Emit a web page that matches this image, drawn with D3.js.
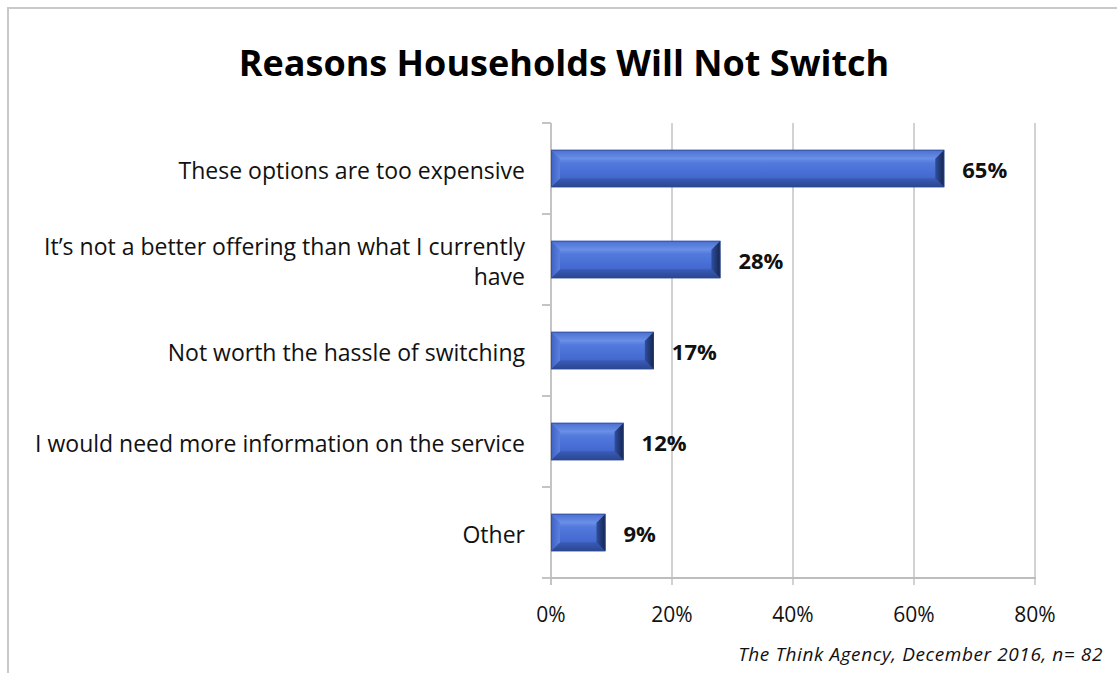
<!DOCTYPE html>
<html>
<head>
<meta charset="utf-8">
<script src="https://cdn.jsdelivr.net/npm/d3@7/dist/d3.min.js"></script>
<style>
  html, body { margin: 0; padding: 0; background: #fff; }
  svg { display: block; }
  text { font-family: "Open Sans", Lato, sans-serif; }
</style>
</head>
<body>
<svg id="chart" width="1117" height="673"></svg>
<script>
// Survey answers and their shares (percent of households)
const categories = [
  "These options are too expensive",
  "It’s not a better offering than what I currently have",
  "Not worth the hassle of switching",
  "I would need more information on the service",
  "Other"
];
const values = [65, 28, 17, 12, 9];
const tickValues = [0, 20, 40, 60, 80];
const titleText = "Reasons Households Will Not Switch";
const sourceText = "The Think Agency, December 2016, n= 82";

const svg = d3.select("#chart");

// frame
svg.append("path")
  .attr("d", "M8,673 L8,8 L1117,8")
  .attr("fill", "none")
  .attr("stroke", "#c9c9c9")
  .attr("stroke-width", 2);

const plot = { left: 551, right: 1035, top: 123, bottom: 578 };

const x = d3.scaleLinear().domain([0, 80]).range([plot.left, plot.right]);
const y = d3.scaleBand().domain(categories)
  .range([plot.top, plot.bottom])
  .paddingInner(0.59).paddingOuter(0.295);

// gradients for the bevelled bars
const defs = svg.append("defs");
const gMain = defs.append("linearGradient").attr("id", "barMain")
  .attr("x1", 0).attr("y1", 0).attr("x2", 0).attr("y2", 1);
[[0, "#5a7fe0"], [0.2, "#7096ea"], [0.35, "#5279dc"], [0.7, "#456bd2"], [1, "#3858b0"]]
  .forEach(([o, c]) => gMain.append("stop").attr("offset", o).attr("stop-color", c));
const gTop = defs.append("linearGradient").attr("id", "barTop")
  .attr("x1", 0).attr("y1", 0).attr("x2", 0).attr("y2", 1);
[[0, "#4a6fd0"], [1, "#6b90e8"]]
  .forEach(([o, c]) => gTop.append("stop").attr("offset", o).attr("stop-color", c));
const gBot = defs.append("linearGradient").attr("id", "barBot")
  .attr("x1", 0).attr("y1", 0).attr("x2", 0).attr("y2", 1);
[[0, "#3a5cb8"], [1, "#2a4690"]]
  .forEach(([o, c]) => gBot.append("stop").attr("offset", o).attr("stop-color", c));
const gLeft = defs.append("linearGradient").attr("id", "barLeft")
  .attr("x1", 0).attr("y1", 0).attr("x2", 1).attr("y2", 0);
[[0, "#3f62c4"], [1, "#5a80df"]]
  .forEach(([o, c]) => gLeft.append("stop").attr("offset", o).attr("stop-color", c));
const gRight = defs.append("linearGradient").attr("id", "barRight")
  .attr("x1", 0).attr("y1", 0).attr("x2", 1).attr("y2", 0);
[[0, "#2f4f9e"], [1, "#14244f"]]
  .forEach(([o, c]) => gRight.append("stop").attr("offset", o).attr("stop-color", c));

// vertical gridlines (extend below the axis as tick marks)
svg.append("g").selectAll("line")
  .data(tickValues.slice(1))
  .join("line")
  .attr("x1", d => x(d)).attr("x2", d => x(d))
  .attr("y1", plot.top).attr("y2", plot.bottom + 7)
  .attr("stroke", "#d2d2d2").attr("stroke-width", 2);

// y axis line with outward ticks at band boundaries
const bounds = categories.map(c => y(c) - y.step() * y.paddingInner() / 2);
bounds.push(plot.bottom);
svg.append("line")
  .attr("x1", plot.left).attr("x2", plot.left)
  .attr("y1", plot.top).attr("y2", plot.bottom + 7)
  .attr("stroke", "#c4c4c4").attr("stroke-width", 2);
svg.append("g").selectAll("line")
  .data(bounds)
  .join("line")
  .attr("x1", plot.left - 9).attr("x2", plot.left)
  .attr("y1", d => d).attr("y2", d => d)
  .attr("stroke", "#c4c4c4").attr("stroke-width", 2);

// x axis line
svg.append("line")
  .attr("x1", plot.left - 1).attr("x2", plot.right + 1)
  .attr("y1", plot.bottom).attr("y2", plot.bottom)
  .attr("stroke", "#bdbdbd").attr("stroke-width", 2);

// x tick labels
svg.append("g").selectAll("text")
  .data(tickValues)
  .join("text")
  .attr("x", d => x(d)).attr("y", 622)
  .attr("text-anchor", "middle")
  .attr("font-size", 21).attr("fill", "#111")
  .text(d => d + "%");

// bevelled bars
const bars = svg.append("g").selectAll("g")
  .data(categories.map((c, i) => ({ c, v: values[i] })))
  .join("g");
bars.each(function(d) {
  const g = d3.select(this);
  const x0 = x(0), x1 = x(d.v), y0 = y(d.c), y1 = y0 + y.bandwidth();
  const b = Math.min(9, (x1 - x0) / 3);
  const h = 9;
  g.append("rect").attr("x", x0).attr("y", y0)
    .attr("width", x1 - x0).attr("height", y1 - y0).attr("fill", "url(#barMain)");
  g.append("path").attr("d", `M${x0},${y0}L${x1},${y0}L${x1 - b},${y0 + h}L${x0 + b},${y0 + h}Z`)
    .attr("fill", "url(#barTop)");
  g.append("path").attr("d", `M${x0},${y1}L${x1},${y1}L${x1 - b},${y1 - h}L${x0 + b},${y1 - h}Z`)
    .attr("fill", "url(#barBot)");
  g.append("path").attr("d", `M${x0},${y0}L${x0 + b},${y0 + h}L${x0 + b},${y1 - h}L${x0},${y1}Z`)
    .attr("fill", "url(#barLeft)");
  g.append("path").attr("d", `M${x1},${y0}L${x1 - b},${y0 + h}L${x1 - b},${y1 - h}L${x1},${y1}Z`)
    .attr("fill", "url(#barRight)");
  g.append("rect").attr("x", x0 + 0.5).attr("y", y0 + 0.5)
    .attr("width", x1 - x0 - 1).attr("height", y1 - y0 - 1)
    .attr("fill", "none").attr("stroke", "#2b4791").attr("stroke-opacity", 0.6);
});

// value labels
svg.append("g").selectAll("text")
  .data(categories.map((c, i) => ({ c, v: values[i] })))
  .join("text")
  .attr("x", d => x(d.v) + 18)
  .attr("y", d => y(d.c) + y.bandwidth() / 2 + 9.5)
  .attr("font-size", 22).attr("font-weight", "bold").attr("fill", "#111")
  .text(d => d.v + "%");

// category labels (wrapped where long)
const wraps = {
  "It’s not a better offering than what I currently have":
    ["It’s not a better offering than what I currently", "have"]
};
svg.append("g").selectAll("text")
  .data(categories)
  .join("text")
  .attr("text-anchor", "end")
  .attr("font-size", 23).attr("fill", "#111")
  .each(function(c) {
    const lines = wraps[c] || [c];
    const cy = y(c) + y.bandwidth() / 2;
    const lh = 30;
    const t = d3.select(this);
    lines.forEach((ln, i) => {
      t.append("tspan")
        .attr("x", 525)
        .attr("y", cy + 10.5 + (i - (lines.length - 1) / 2) * lh)
        .text(ln);
    });
  });

// title
svg.append("text")
  .attr("x", 564).attr("y", 76)
  .attr("text-anchor", "middle")
  .attr("font-size", 36).attr("font-weight", "bold").attr("fill", "#000")
  .text(titleText);

// source note
svg.append("text")
  .attr("x", 1103).attr("y", 661)
  .attr("text-anchor", "end")
  .attr("font-size", 19).attr("font-style", "italic").attr("fill", "#111")
  .attr("letter-spacing", 0.6)
  .text(sourceText);
</script>
</body>
</html>
